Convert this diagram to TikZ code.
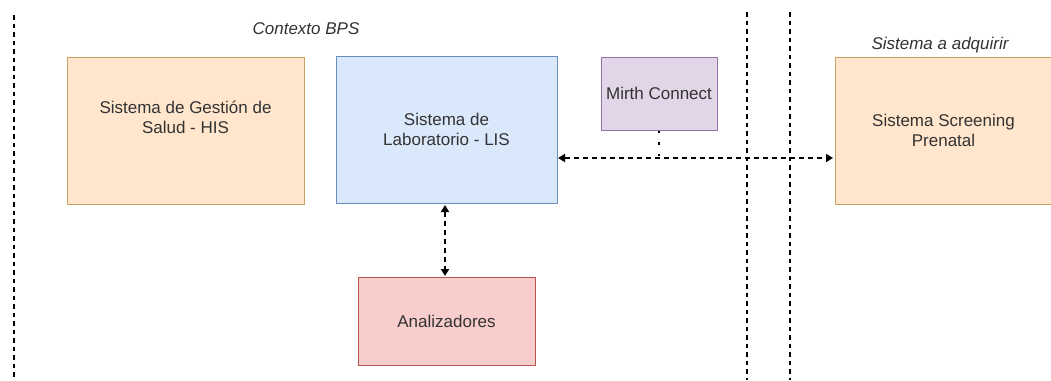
\documentclass[tikz,border=0pt]{standalone}
\usepackage{fontspec}
\setmainfont{Liberation Sans}
\usetikzlibrary{arrows.meta}
\definecolor{orfill}{HTML}{FFE6CC}
\definecolor{ordraw}{HTML}{C8A060}
\definecolor{blfill}{HTML}{DAE8FC}
\definecolor{bldraw}{HTML}{6C8EBF}
\definecolor{pufill}{HTML}{E1D5E7}
\definecolor{pudraw}{HTML}{9673A6}
\definecolor{rdfill}{HTML}{F8CECC}
\definecolor{rddraw}{HTML}{B85450}
\definecolor{txt}{HTML}{333333}
\begin{document}
\begin{tikzpicture}[x=1pt,y=-1pt,
  box/.style={draw, line width=1pt, inner sep=0pt, align=center, text=txt,
     font=\fontsize{17}{20}\selectfont},
  sep/.style={line width=1.8pt, dash pattern=on 4.5pt off 4pt},
  link/.style={line width=2pt, dash pattern=on 5pt off 4pt,
     {Triangle[length=7pt,width=8pt]}-{Triangle[length=7pt,width=8pt]}},
  dots/.style={line width=2.2pt, dash pattern=on 2.5pt off 9pt},
  lbl/.style={font=\fontsize{17}{20}\selectfont\itshape, text=txt, inner sep=0pt}]
\clip (0,0) rectangle (1051,380);
\fill[white] (0,0) rectangle (1051,380);
% separators
\coordinate (s1a) at (14,15);
\coordinate (s1b) at (14,380);
\coordinate (s2a) at (747,12);
\coordinate (s2b) at (747,380);
\coordinate (s3a) at (790,12);
\coordinate (s3b) at (790,380);
\draw[sep] (s1a) -- (s1b);
\draw[sep] (s2a) -- (s2b);
\draw[sep] (s3a) -- (s3b);
% labels
\node[lbl] (ctx) at (306,29) {Contexto BPS};
\node[lbl] (adq) at (940,45) {Sistema a adquirir};
% boxes
\node[box, fill=orfill, draw=ordraw, minimum width=237pt, minimum height=147pt]
  (his) at (185.5,130.5) {};
\node[align=center, text=txt, font=\fontsize{17}{20}\selectfont, inner sep=0pt]
  (histxt) at (185.5,117) {Sistema de Gestión de\\Salud - HIS};
\node[box, fill=blfill, draw=bldraw, minimum width=221pt, minimum height=147pt]
  (lis) at (446.5,129.5) {Sistema de\\Laboratorio - LIS};
\node[box, fill=pufill, draw=pudraw, minimum width=116pt, minimum height=73pt]
  (mirth) at (659,93.5) {Mirth Connect};
\node[box, fill=orfill, draw=ordraw, minimum width=217pt, minimum height=147pt]
  (scr) at (943.5,130.5) {Sistema Screening\\Prenatal};
\node[box, fill=rdfill, draw=rddraw, minimum width=177pt, minimum height=88pt]
  (ana) at (446.5,321) {Analizadores};
% connectors
\coordinate (le) at (558,158);
\coordinate (re) at (833,158);
\draw[link] (le) -- (re);
\coordinate (mj) at (659,156);
\draw[dots] (mirth.south) -- (mj);
\coordinate (lb) at (445,205);
\coordinate (at) at (445,276);
\draw[link] (lb) -- (at);
\end{tikzpicture}
\end{document}
